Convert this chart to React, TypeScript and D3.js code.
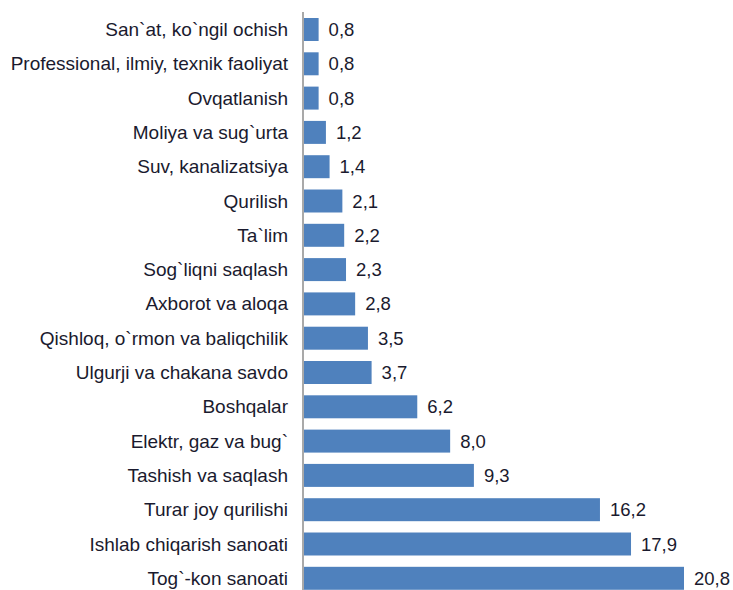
import React from "react";
import * as d3 from "d3";

const categories = [
  "San`at, ko`ngil ochish",
  "Professional, ilmiy, texnik faoliyat",
  "Ovqatlanish",
  "Moliya va sug`urta",
  "Suv, kanalizatsiya",
  "Qurilish",
  "Ta`lim",
  "Sog`liqni saqlash",
  "Axborot va aloqa",
  "Qishloq, o`rmon va baliqchilik",
  "Ulgurji va chakana savdo",
  "Boshqalar",
  "Elektr, gaz va bug`",
  "Tashish va saqlash",
  "Turar joy qurilishi",
  "Ishlab chiqarish sanoati",
  "Tog`-kon sanoati",
];
const values = [0.8, 0.8, 0.8, 1.2, 1.4, 2.1, 2.2, 2.3, 2.8, 3.5, 3.7, 6.2, 8.0, 9.3, 16.2, 17.9, 20.8];

const W = 733;
const H = 590;

export default function App() {
  const x = d3.scaleLinear().domain([0, 20.8]).range([304, 684]);
  const step = 34.3;
  const y = d3
    .scaleBand<string>()
    .domain(categories)
    .range([12.35, 12.35 + categories.length * step])
    .paddingInner(0.33)
    .paddingOuter(0.165);
  const fmt = (v: number) => v.toFixed(1).replace(".", ",");
  const font = "'Liberation Sans', Arial, sans-serif";
  return (
    <svg
      width={W}
      height={H}
      style={{ position: "absolute", left: 0, top: 0, background: "#fff" }}
    >
      {categories.map((c, i) => {
        const y0 = y(c)!;
        const cy = y0 + y.bandwidth() / 2;
        return (
          <g key={c}>
            <rect
              x={x(0)}
              y={y0}
              width={x(values[i]) - x(0)}
              height={y.bandwidth()}
              fill="#4F81BD"
            />
            <text
              x={288}
              y={cy + 6.5}
              textAnchor="end"
              fontFamily={font}
              fontSize={19}
              fill="#1a1a2e"
            >
              {c}
            </text>
            <text
              x={x(values[i]) + 10}
              y={cy + 6.5}
              fontFamily={font}
              fontSize={18.5}
              fill="#1a1a2e"
            >
              {fmt(values[i])}
            </text>
          </g>
        );
      })}
      <line x1={303} x2={303} y1={12} y2={H} stroke="#8c8c8c" strokeWidth={1.5} />
    </svg>
  );
}
